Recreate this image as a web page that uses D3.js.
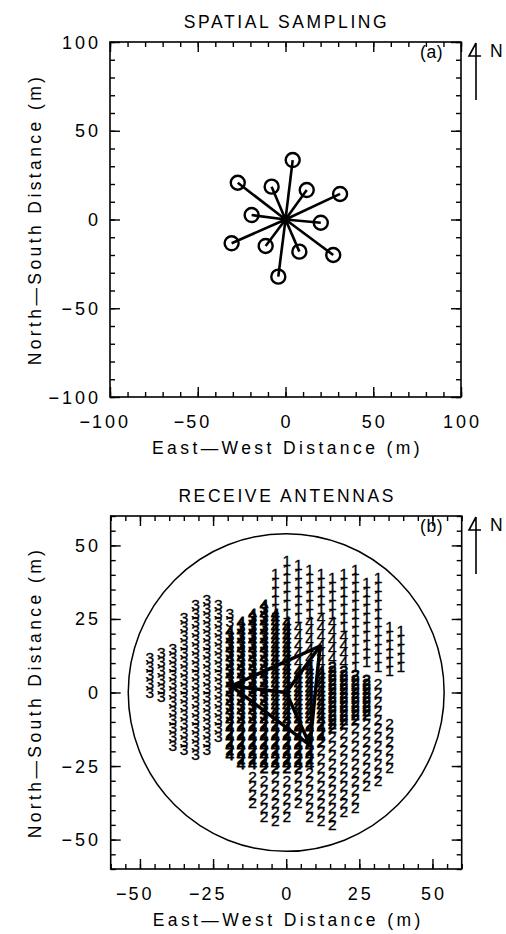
<!DOCTYPE html>
<html>
<head>
<meta charset="utf-8">
<script src="https://cdn.jsdelivr.net/npm/d3@7"></script>
<style>
  body { margin: 0; background: #fff; }
  text { font-family: "Liberation Sans", Arial, sans-serif; fill: #000; }
  .lbl { font-size: 17.5px; letter-spacing: 3.4px; }
  .ttl { font-size: 17.5px; letter-spacing: 2.6px; }
  .tk { font-size: 18px; letter-spacing: 3px; }
  .dig { font-size: 15.5px; stroke: #000; stroke-width: 0.35px; }
  .dig.dense { stroke-width: 0.9px; }
</style>
</head>
<body>
<div id="chart"></div>
<script>
// Panel (a): sampling points (m), connected to the centre
var sampleX = [4.1, -27.2, -7.9, 12.1, 31.1, -19.3, 20.1, -30.7, -11.3, 7.9, 27.2, -4.1];
var sampleY = [33.5, 20.7, 18.5, 16.6, 14.4, 2.5, -1.8, -13.4, -14.9, -18.1, -20, -32.2];

// Panel (b): receive antenna positions (m)
var antX = [-18.8, 11.6, 8.1];
var antY = [2.2, 15.8, -17.9];
var ringRadius = 54;

// label grid of panel (b): column x positions and row y positions (m)
var gridX = [-46.6, -42.7, -38.8, -34.9, -31, -27.1, -23.2, -19.3, -15.4, -11.5, -7.6, -3.7,
             0.2, 4.1, 8, 11.9, 15.8, 19.7, 23.6, 27.5, 31.4, 35.3, 39.2];
var gridY = [45, 43.5, 42, 40.5, 39, 37.5, 36, 34.5, 33, 31.5, 30, 28.5, 27, 25.5, 24, 22.5,
             21, 19.5, 18, 16.5, 15, 13.5, 12, 10.5, 9, 7.5, 6, 4.5, 3, 1.5, 0, -1.5, -3,
             -4.5, -6, -7.5, -9, -10.5, -12, -13.5, -15, -16.5, -18, -19.5, -21, -22.5, -24,
             -25.5, -27, -28.5, -30, -31.5, -33, -34.5, -36, -37.5, -39, -40.5, -42, -43.5,
             -45, -46.5, -48];

// per column: [first row index, digits down the rows ("." = nothing)]
var gridCols = [
  [[22, "3.3.3.3.3"]],
  [[21, "3.3.3.3.3.3"]],
  [[20, "3.3.3.3.3.3.3.3.3.3.3.3"]],
  [[13, "3.3.3.3.3.3.3.3.3.3.3.3.3.3.3.3"]],
  [[10, "3.3.3.3.3.3.3.3.3.3.3.3.3.3.3.3.3.3"]],
  [[9, "3.3.3.3.3.3.3.3.3.3.3.3.3.3.3.3.3.3"]],
  [[10, "3.3.3.3.3.3.3.3.3.3.3.3.3.3.3.3"]],
  [[12, "3.3"], [16, "43434343434343434343"], [36, "424242424"]],
  [[14, "4343434343434343434343"], [36, "42424242424"]],
  [[12, "434343434343434343434343"], [36, "42424242424"], [49, "2.2.2.2"]],
  [[10, "43434343434343434343434343"], [36, "424242424242"], [50, "2.2.2.2.2"]],
  [[3, "1.1.1.1.1"], [12, "444444444444444444444444"], [36, "424242424242"], [49, "2.2.2.2.2.2"]],
  [[0, "1.1.1.1.1.1.1"], [14, "4444444444444444444444"], [36, "424242424242"], [50, "2.2.2.2.2"]],
  [[1, "1.1.1.1.1.1.1"], [15, "4.4.4.4.4"], [25, "44444444444"], [36, "424242424242"], [49, "2.2.2.2"]],
  [[2, "1.1.1.1.1.1"], [14, "4.4.4.4.4"], [24, "444444444444"], [36, "42424242424"], [48, "2.2.2.2.2.2"]],
  [[3, "1.1.1.1.1"], [13, "4.4.4.4.4.4"], [25, "44444444444"], [36, "424242"], [43, "2.2.2.2.2.2.2.2.2"]],
  [[4, "1.1.1.1.1"], [14, "4.4.4.4.4"], [24, "222222222222222"], [40, "2.2.2.2.2.2.2.2.2.2.2"]],
  [[3, "1.1.1.1.1.1.1"], [17, "4.4.4.4"], [25, "2222222222222"], [39, "2.2.2.2.2.2.2.2.2.2"]],
  [[2, "1.1.1.1.1.1.1.1.1.1.1.1"], [26, "22222222222"], [38, "2.2.2.2.2.2.2.2.2.2"]],
  [[5, "1.1.1.1.1.1.1.1.1.1"], [27, "222222222"], [37, "2.2.2.2.2.2.2.2"]],
  [[4, "1.1.1.1.1.1.1.1.1.1.1"], [28, "2.2.2.2.2.2.2.2.2.2.2.2"]],
  [[15, "1.1.1.1.1.1"], [37, "2.2.2.2.2.2"]],
  [[16, "1.1.1.1.1"]]
];

// axis ticks
var ticksA = [-100, -50, 0, 50, 100];
var ticksB = [-50, -25, 0, 25, 50];

var svg = d3.select("#chart").append("svg")
    .attr("width", 506)
    .attr("height", 934);

var xA = d3.scaleLinear().domain([-100, 100]).range([110, 461]);
var yA = d3.scaleLinear().domain([-100, 100]).range([397, 42]);
var xB = d3.scaleLinear().domain([-60, 60]).range([110.7, 461.7]);
var yB = d3.scaleLinear().domain([-60, 60]).range([869, 516]);

// label with the minus hanging left of a centred number
function xLabel(g, x, v, y) {
  var t = g.append("text").attr("class", "tk").attr("x", x + 1.5).attr("y", y)
      .attr("text-anchor", "middle").text(Math.abs(v));
  if (v < 0) {
    var w = t.node().getComputedTextLength();
    g.append("text").attr("class", "tk").style("letter-spacing", "0px")
        .attr("x", x + 1.5 - w / 2 - 2).attr("y", y)
        .attr("text-anchor", "end").text("\u2212");
  }
}

function drawFrame(x, y, majors, minorStep, title, titleY, tag) {
  var g = svg.append("g");
  var x0 = x.range()[0], x1 = x.range()[1], y0 = y.range()[0], y1 = y.range()[1];
  var minors = d3.range(x.domain()[0], x.domain()[1] + 0.1, minorStep);

  var axes = [
    [d3.axisBottom, x, `translate(0,${y0})`],
    [d3.axisTop, x, `translate(0,${y1})`],
    [d3.axisLeft, y, `translate(${x0},0)`],
    [d3.axisRight, y, `translate(${x1},0)`]
  ];
  axes.forEach(function(a) {
    [[minors, -5], [majors, -10]].forEach(function(t) {
      g.append("g")
          .attr("transform", a[2])
          .call(a[0](a[1]).tickValues(t[0]).tickSize(t[1]).tickSizeOuter(0).tickFormat(""))
          .call(s => s.select(".domain").remove())
          .call(s => s.selectAll("line").attr("stroke", "#000").attr("stroke-width", 1.4));
    });
  });

  g.append("rect")
      .attr("x", x0).attr("y", y1)
      .attr("width", x1 - x0).attr("height", y0 - y1)
      .attr("fill", "none").attr("stroke", "#000").attr("stroke-width", 1.6);

  majors.forEach(function(v) {
    xLabel(g, x(v), v, y0 + 31);
    g.append("text").attr("class", "tk")
        .attr("x", 101).attr("y", y(v) + 6.5)
        .attr("text-anchor", "end")
        .text((v < 0 ? "\u2212" : "") + Math.abs(v));
  });

  g.append("text").attr("class", "ttl")
      .attr("x", (x0 + x1) / 2 + 1).attr("y", titleY)
      .attr("text-anchor", "middle").text(title);
  g.append("text").attr("class", "lbl")
      .attr("x", (x0 + x1) / 2 + 2).attr("y", y0 + 57)
      .attr("text-anchor", "middle").text("East\u2014West Distance (m)");
  g.append("text").attr("class", "lbl")
      .attr("transform", `translate(41,${(y0 + y1) / 2}) rotate(-90)`)
      .attr("text-anchor", "middle").text("North\u2014South Distance (m)");

  g.append("text").attr("class", "lbl")
      .attr("x", 443).attr("y", y1 + 16)
      .attr("text-anchor", "end").style("letter-spacing", "0.5px").text(tag);

  // north arrow
  g.append("path")
      .attr("d", `M476,${y1 + 1}V${y1 + 58}M476,${y1 + 1}L469,${y1 + 14}H481`)
      .attr("fill", "none").attr("stroke", "#000").attr("stroke-width", 1.6);
  g.append("text").attr("class", "lbl")
      .attr("x", 490).attr("y", y1 + 15).text("N");
  return g;
}

// ---------- panel (a) ----------
var gA = drawFrame(xA, yA, ticksA, 10, "SPATIAL   SAMPLING", 28, "(a)");

gA.selectAll("line.spoke")
    .data(sampleX)
    .enter()
    .append("line")
    .attr("x1", xA(0)).attr("y1", yA(0))
    .attr("x2", d => xA(d))
    .attr("y2", (d, i) => yA(sampleY[i]))
    .attr("stroke", "#000").attr("stroke-width", 2.6);

gA.selectAll("circle.site")
    .data(sampleX)
    .enter()
    .append("circle")
    .attr("cx", d => xA(d))
    .attr("cy", (d, i) => yA(sampleY[i]))
    .attr("r", 7)
    .attr("fill", "none").attr("stroke", "#000").attr("stroke-width", 2.4);

gA.append("circle")
    .attr("cx", xA(0)).attr("cy", yA(0)).attr("r", 5)
    .attr("fill", "#000");

// ---------- panel (b) ----------
var gB = drawFrame(xB, yB, ticksB, 5, "RECEIVE   ANTENNAS", 502, "(b)");

gB.append("ellipse")
    .attr("cx", xB(0)).attr("cy", yB(0))
    .attr("rx", xB(ringRadius) - xB(0))
    .attr("ry", yB(0) - yB(ringRadius))
    .attr("fill", "none").attr("stroke", "#000").attr("stroke-width", 1.5);

var cells = [];
gridCols.forEach(function(col, i) {
  col.forEach(function(seg) {
    var dense = seg[1].indexOf(".") < 0 && seg[1].length > 2;
    seg[1].split("").forEach(function(ch, k) {
      if (ch !== ".") cells.push({ x: gridX[i], y: gridY[seg[0] + k], d: ch, dense: dense });
    });
  });
});

gB.selectAll("text.dig")
    .data(cells)
    .enter()
    .append("text")
    .attr("class", d => d.dense ? "dig dense" : "dig")
    .attr("x", d => xB(d.x))
    .attr("y", d => yB(d.y))
    .attr("dy", "0.36em")
    .attr("text-anchor", "middle")
    .text(d => d.d);

// triangle of antennas and spokes to the origin
var tri = d3.line()
    .x((d, i) => xB(antX[i]))
    .y((d, i) => yB(antY[i]))
    .curve(d3.curveLinearClosed);

gB.append("path")
    .attr("d", tri(antX))
    .attr("fill", "none").attr("stroke", "#000").attr("stroke-width", 3.5)
    .attr("stroke-linejoin", "round");

gB.selectAll("line.ant")
    .data(antX)
    .enter()
    .append("line")
    .attr("x1", xB(0)).attr("y1", yB(0))
    .attr("x2", d => xB(d))
    .attr("y2", (d, i) => yB(antY[i]))
    .attr("stroke", "#000").attr("stroke-width", 3.5)
    .attr("stroke-linecap", "round");
</script>
</body>
</html>
